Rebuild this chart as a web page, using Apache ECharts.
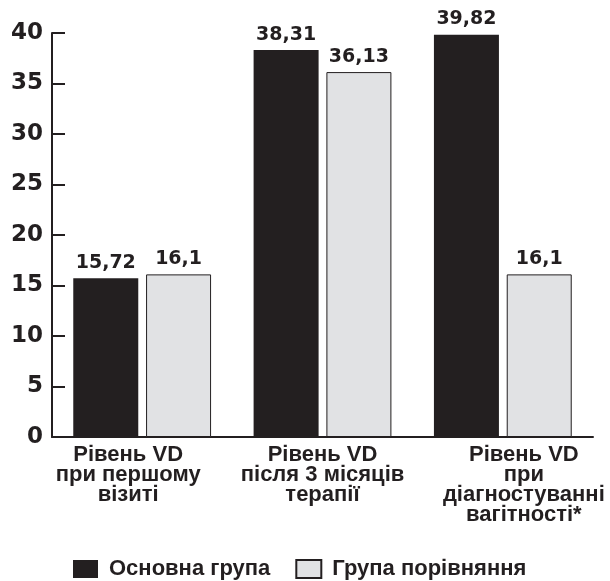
<!DOCTYPE html>
<html><head><meta charset="utf-8">
<script src="https://cdn.jsdelivr.net/npm/echarts@6/dist/echarts.min.js"></script>
<style>html,body{margin:0;padding:0;background:#fff}#c{width:610px;height:581px}</style>
</head><body><div id="c"></div>
<script>
const categories = ['Рівень VD\nпри першому\nвізиті', 'Рівень VD\nпісля 3 місяців\nтерапії', 'Рівень VD\nпри\nдіагностуванні\nвагітності*'];
const seriesNames = ['Основна група', 'Група порівняння'];
const mainGroup = [15.72, 38.31, 39.82];
const compareGroup = [16.1, 36.13, 16.1];
const yTicks = [0, 5, 10, 15, 20, 25, 30, 35, 40];

const labelPads = [[0, 28, 0, 0], [0, 0, 0, 0], [0, 0, 0, 42]];
const fmt = v => String(v).replace('.', ',');
const numFont = 'DejaVu Sans';
const txtFont = 'Liberation Sans';
const dark = '#231f20';

const chart = echarts.init(document.getElementById('c'), null, {renderer: 'canvas'});
chart.setOption({
  animation: false,
  grid: {left: 52, right: 17, top: 33, bottom: 144},
  legend: {
    left: 68, top: 553, itemWidth: 25, itemHeight: 18, itemGap: 25, icon: 'rect',
    textStyle: {fontFamily: txtFont, fontWeight: 'bold', fontSize: 22, color: dark, padding: [0, 0, 0, 6]},
    data: seriesNames
  },
  xAxis: {
    type: 'category',
    data: categories.map((c, i) => ({value: c, textStyle: {padding: labelPads[i]}})),
    axisLine: {lineStyle: {color: dark, width: 2}},
    axisTick: {inside: true, length: 8, lineStyle: {color: dark, width: 2}},
    axisLabel: {fontFamily: txtFont, fontWeight: 'bold', fontSize: 22, lineHeight: 20, color: dark, margin: 8, interval: 0}
  },
  yAxis: {
    type: 'value', min: yTicks[0], max: yTicks[yTicks.length - 1], interval: 5,
    splitLine: {show: false},
    axisLine: {show: true, lineStyle: {color: dark, width: 2}},
    axisTick: {show: true, inside: true, length: 13, lineStyle: {color: dark, width: 2}},
    axisLabel: {fontFamily: numFont, fontWeight: 'bold', fontSize: 23, color: dark, margin: 9}
  },
  series: [
    {
      name: seriesNames[0], type: 'bar', data: mainGroup, barWidth: 65, barGap: '12%',
      itemStyle: {color: dark},
      label: {show: true, position: 'top', distance: 6, formatter: p => fmt(p.value),
        fontFamily: numFont, fontWeight: 'bold', fontSize: 19, color: dark}
    },
    {
      name: seriesNames[1], type: 'bar', data: compareGroup, barWidth: 65,
      itemStyle: {color: '#e1e2e4', borderColor: dark, borderWidth: 1},
      label: {show: true, position: 'top', distance: 6, formatter: p => fmt(p.value),
        fontFamily: numFont, fontWeight: 'bold', fontSize: 19, color: dark}
    }
  ]
});
</script></body></html>
